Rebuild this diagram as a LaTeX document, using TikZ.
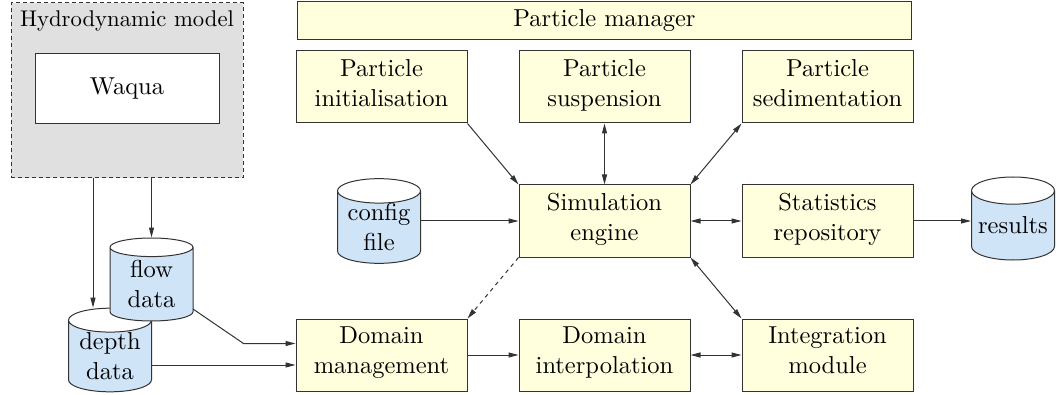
\documentclass[tikz,border=0pt]{standalone}
\usepackage{fontspec}
\setmainfont{lmroman10-regular}[Extension=.otf]
\usepackage{tikz}
\definecolor{PaleYellow}{HTML}{FFFFDD}
\definecolor{PaleBlue}{HTML}{D0E4F8}
\definecolor{HydroGray}{HTML}{E0E0E0}
\definecolor{LineGray}{HTML}{333333}
\usetikzlibrary{shapes.geometric, arrows.meta, positioning, calc}

\begin{document}
\begin{tikzpicture}[x=1pt, y=1pt, node distance=61pt and 51pt, align=center,
    font=\fontsize{24.5}{30}\selectfont, line width=1pt,
    module/.style={draw=LineGray, fill=PaleYellow, minimum width=171pt, minimum height=72pt, inner sep=0pt,
        execute at begin node=\strut, execute at end node=\strut},
    store/.style={cylinder, shape border rotate=90, draw=LineGray, cylinder uses custom fill,
        cylinder body fill=PaleBlue, cylinder end fill=white, aspect=0.39,
        minimum width=83pt, minimum height=83pt, inner sep=0pt, anchor=shape center},
    arr/.style={-{Triangle[length=10pt,width=5pt]}, LineGray},
    biarr/.style={{Triangle[length=10pt,width=5pt]}-{Triangle[length=10pt,width=5pt]}, LineGray}]
    \useasboundingbox (0,0) rectangle (1057,394);

    % Hydrodynamic model
    \node (hydro) [draw=LineGray, dash pattern=on 4pt off 3pt, fill=HydroGray, minimum width=232pt, minimum height=175pt] at (127,303.5) {};
    \node (hydrotitle) [anchor=base, font=\fontsize{22.7}{28}\selectfont] at ([yshift=-24pt]hydro.north) {Hydrodynamic model};
    \node (waqua) [draw=LineGray, fill=white, minimum width=184pt, minimum height=70pt, inner sep=0pt] at (127,305) {Waqua};

    % Modules
    \node (sim) [module] at (604.5,173) {Simulation\\engine};
    \node (init) [module, above left=of sim] {Particle\\initialisation};
    \node (susp) [module, above=of sim] {Particle\\suspension};
    \node (sed) [module, above right=of sim] {Particle\\sedimentation};
    \node (manager) [module, above=10pt of susp, minimum width=614pt, minimum height=38pt] {Particle manager};
    \node (stats) [module, right=of sim] {Statistics\\repository};
    \node (dm) [module, below left=of sim] {Domain\\management};
    \node (dint) [module, below=of sim] {Domain\\interpolation};
    \node (integ) [module, below right=of sim] {Integration\\module};

    % Data files
    \node (config) [store] at (379,173) {config\\file};
    \node (results) [store] at (1013,175.5) {results};
    \node (depth) [store] at (110,44) {depth\\data};
    \node (flow) [store] at (151.5,114.5) {flow\\data};

    % Connections around the engine
    \draw[arr] (init.south east) -- (sim.north west);
    \draw[biarr] (susp) -- (sim);
    \draw[biarr] (sim.north east) -- (sed.south west);
    \draw[arr] (sim.west -| config.east) -- (sim.west);
    \draw[biarr] (sim) -- (stats);
    \draw[arr] (stats.east) -- (stats.east -| results.west);
    \draw[arr, dash pattern=on 4pt off 4pt] (sim.south west) -- (dm.north east);
    \draw[biarr] (sim.south east) -- (integ.north west);
    \draw[arr] (dm) -- (dint);
    \draw[biarr] (dint) -- (integ);

    % Hydrodynamic input
    \draw[arr] (hydro.south -| flow.top) -- (flow.top);
    \draw[arr] ([xshift=-34pt]hydro.south) -- ([xshift=-34pt]hydro.south |- depth.top);
    \coordinate (flowside) at ($(flow.shape center)+(41.5,-29.5)$);
    \coordinate (depthside) at ($(depth.shape center)+(42,-15)$);
    \draw[arr] (flowside) -- ([yshift=11.5pt]dm.west -| hydro.south east) -- ([yshift=11.5pt]dm.west);
    \draw[arr] (depthside) -- (depthside -| dm.west);
\end{tikzpicture}
\end{document}
